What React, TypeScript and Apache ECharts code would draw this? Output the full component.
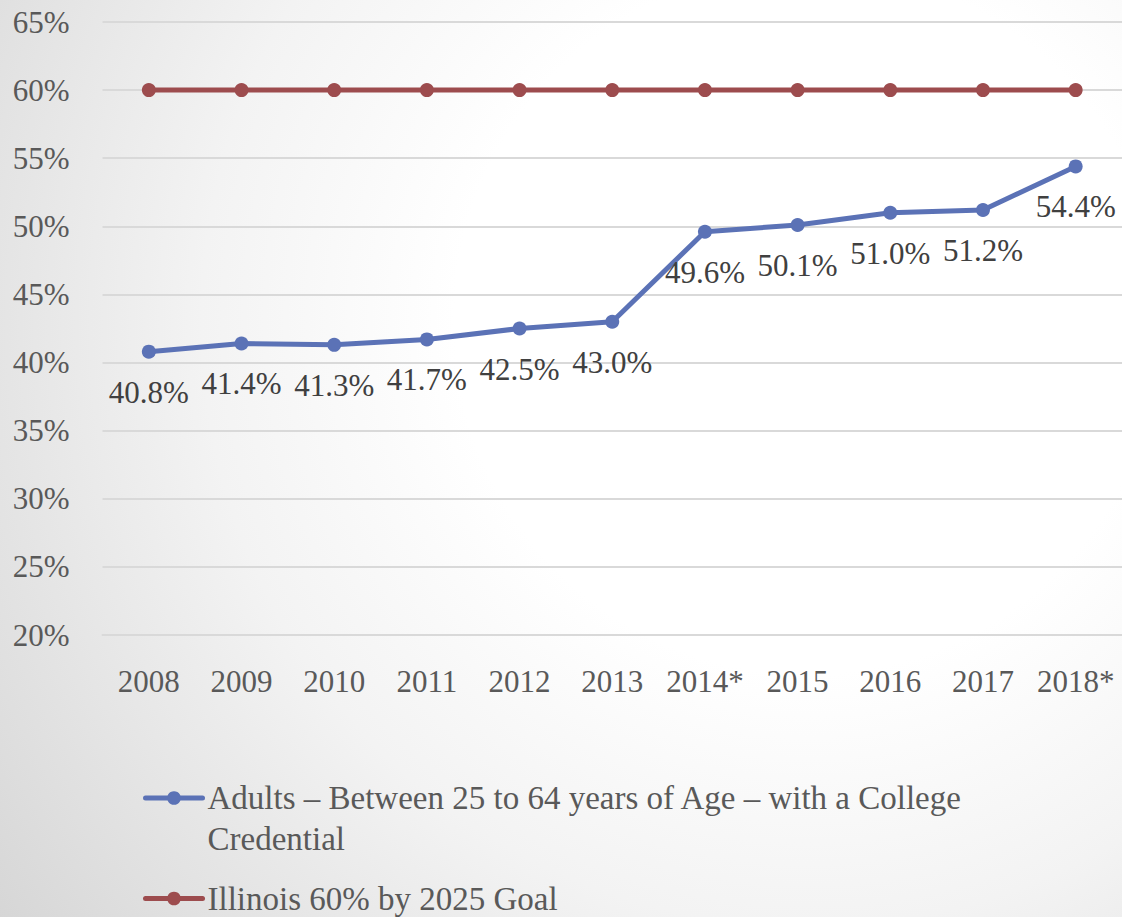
import React, { useEffect, useRef } from "react";
import * as echarts from "echarts";

const years = ["2008", "2009", "2010", "2011", "2012", "2013", "2014*", "2015", "2016", "2017", "2018*"];
const adults = [40.8, 41.4, 41.3, 41.7, 42.5, 43.0, 49.6, 50.1, 51.0, 51.2, 54.4];
const goal = [60, 60, 60, 60, 60, 60, 60, 60, 60, 60, 60];
const adultsName = "Adults – Between 25 to 64 years of Age – with a College Credential";
const goalName = "Illinois 60% by 2025 Goal";

const FONT = "'Liberation Serif', serif";
const BLUE = "#5b72b6";
const RED = "#9d4c4e";

export default function App() {
  const ref = useRef<HTMLDivElement>(null);
  useEffect(() => {
    if (!ref.current) return;
    const chart = echarts.init(ref.current, undefined, { renderer: "svg" });
    const legendText = { color: "#595959", fontSize: 33, fontFamily: FONT };
    chart.setOption({
      animation: false,
      backgroundColor: "transparent",
      textStyle: { fontFamily: FONT },
      grid: { left: 102.5, right: -2.5, top: 22, bottom: 282, containLabel: false },
      xAxis: {
        type: "category",
        data: years,
        boundaryGap: true,
        axisLine: { show: true, lineStyle: { color: "#d9d9d9", width: 2 } },
        axisTick: { show: false },
        axisLabel: { color: "#595959", fontSize: 31, fontFamily: FONT, margin: 31, interval: 0 },
      },
      yAxis: {
        type: "value",
        min: 20,
        max: 65,
        interval: 5,
        axisLine: { show: false },
        axisTick: { show: false },
        splitLine: { lineStyle: { color: "#d9d9d9", width: 2 } },
        axisLabel: {
          color: "#595959",
          fontSize: 31,
          fontFamily: FONT,
          margin: 33,
          formatter: (v: number) => v + "%",
        },
      },
      legend: [
        {
          data: [adultsName],
          orient: "vertical",
          left: 143,
          top: 740.5,
          padding: 0,
          itemWidth: 57,
          itemHeight: 17,
          lineStyle: { width: 5, cap: "round" },
          formatter: () => "{e| }\n{a|Adults – Between 25 to 64 years of Age – with a College}\n{a|Credential}",
          textStyle: {
            ...legendText,
            rich: {
              e: { ...legendText, lineHeight: 41 },
              a: { ...legendText, lineHeight: 41 },
            },
          },
        },
        {
          data: [goalName],
          orient: "vertical",
          left: 143,
          top: 882,
          padding: 0,
          itemWidth: 57,
          itemHeight: 17,
          lineStyle: { width: 5, cap: "round" },
          textStyle: legendText,
        },
      ],
      series: [
        {
          name: goalName,
          type: "line",
          data: goal,
          symbol: "circle",
          symbolSize: 14,
          itemStyle: { color: RED },
          lineStyle: { color: RED, width: 5 },
        },
        {
          name: adultsName,
          type: "line",
          data: adults,
          symbol: "circle",
          symbolSize: 14,
          itemStyle: { color: BLUE },
          lineStyle: { color: BLUE, width: 5 },
          label: {
            show: true,
            position: "bottom",
            distance: 18,
            color: "#404040",
            fontSize: 31,
            fontFamily: FONT,
            formatter: (p: any) => p.value.toFixed(1) + "%",
          },
        },
      ],
    });
    return () => chart.dispose();
  }, []);
  return (
    <div
      style={{
        position: "absolute",
        left: 0,
        top: 0,
        width: 1122,
        height: 917,
        background: "radial-gradient(ellipse 90% 110% at 72% 35%, #ffffff 35%, #f3f3f3 60%, #d6d6d6 100%)",
      }}
    >
      <div ref={ref} style={{ width: 1122, height: 917 }} />
    </div>
  );
}
